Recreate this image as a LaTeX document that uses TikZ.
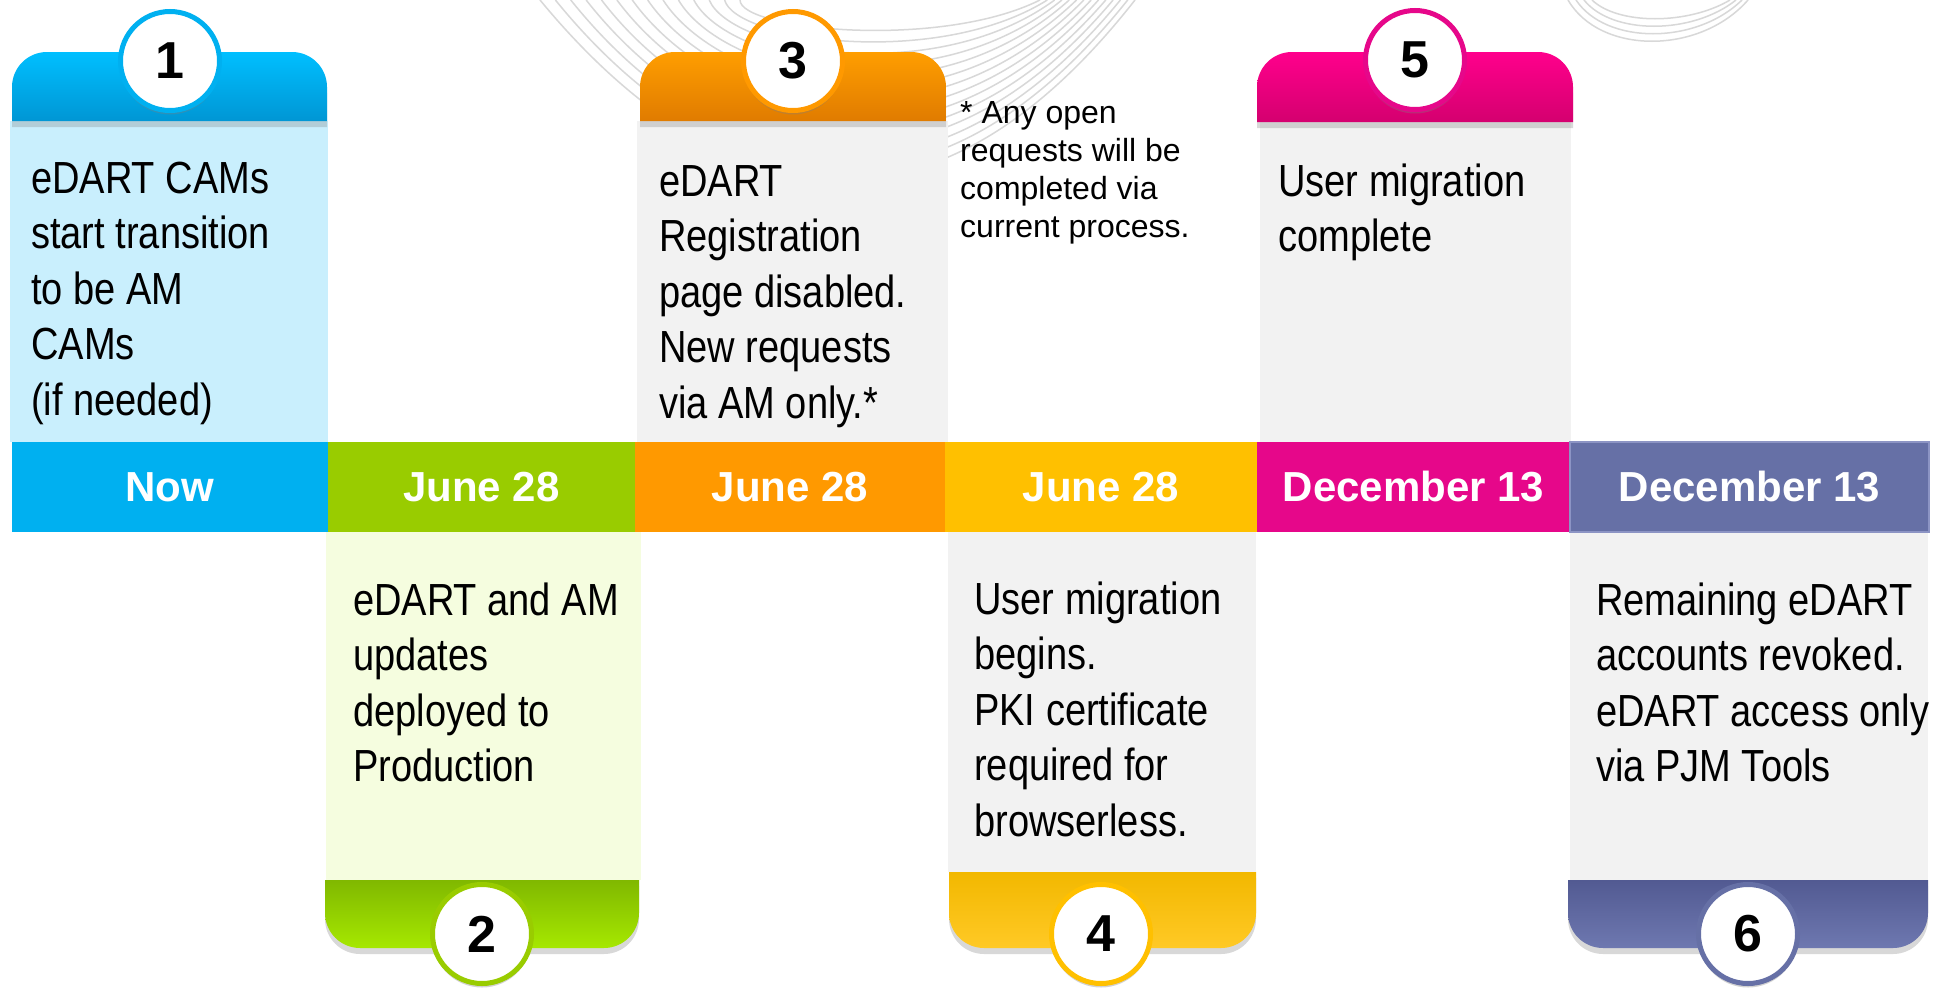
\documentclass[tikz,border=0pt]{standalone}
\usepackage{fontspec}
\setmainfont{Liberation Sans}
\newfontfamily\condfont[FakeStretch=0.845]{Liberation Sans}
\usetikzlibrary{shadows}
\definecolor{cNow}{HTML}{00B0F0}
\definecolor{cGreen}{HTML}{99CC00}
\definecolor{cOrange}{HTML}{FF9900}
\definecolor{cYellow}{HTML}{FFC000}
\definecolor{cMag}{HTML}{E6078A}
\definecolor{cSlate}{HTML}{6670A6}
\definecolor{bBlue}{HTML}{C9EFFD}
\definecolor{bGreen}{HTML}{F5FDDF}
\definecolor{bGray}{HTML}{F2F2F2}
\definecolor{swirl}{HTML}{D8D8D8}
\begin{document}
\begin{tikzpicture}[x=1bp,y=-1bp,
  datebar/.style={rectangle, inner sep=0, minimum height=90bp, text=white,
    font=\bfseries\fontsize{42bp}{42bp}\selectfont},
  bodytext/.style={anchor=base west, align=left, inner sep=0,
    font=\condfont\fontsize{45bp}{55.6bp}\selectfont},
  notetext/.style={anchor=base west, align=left, inner sep=0,
    font=\fontsize{32bp}{38bp}\selectfont},
  numcircle/.style={circle, fill=white, line width=5bp, minimum size=99bp, inner sep=0,
    font=\bfseries\fontsize{52bp}{52bp}\selectfont,
    drop shadow={shadow xshift=0bp, shadow yshift=-4bp, opacity=0.35}},
  tabshadow/.style={drop shadow={shadow xshift=0bp, shadow yshift=-6bp, opacity=0.3}},
  swirlline/.style={swirl, line width=1.5bp}
]
\useasboundingbox[fill=white] (0,0) rectangle (1936,987);

% background swirl
\foreach \i in {0,...,13}{
  \pgfmathsetmacro{\d}{\i/13}
  \draw[swirlline] ({540+200*\d},0) .. controls ({680+60*\d},{170-140*\d}) and ({900+40*\d},{300-250*\d}) .. ({1135-95*\d},0);
}
\foreach \i in {0,...,3}{
  \draw[swirlline] (1568+8*\i,0) .. controls (1600+6*\i,55-10*\i) and (1700-4*\i,55-10*\i) .. (1748-6*\i,0);
}

% bodies
\fill[bBlue] (10,121) rectangle (328,442);
\fill[bGray] (637,121) rectangle (948,442);
\fill[bGray] (1260,121) rectangle (1571,442);
\fill[bGreen] (326,532) rectangle (641,880);
\fill[bGray] (948,532) rectangle (1256,872);
\fill[bGray] (1570,532) rectangle (1928,880);

% top tabs
\path[tabshadow, top color={rgb,255:red,0;green,191;blue,255}, bottom color={rgb,255:red,0;green,150;blue,212}]
  (12,121) [rounded corners=35bp] -- (12,52) -- (327,52) [sharp corners] -- (327,121) -- cycle;
\path[tabshadow, top color={rgb,255:red,255;green,158;blue,0}, bottom color={rgb,255:red,224;green,123;blue,0}]
  (640,121) [rounded corners=35bp] -- (640,52) -- (946,52) [sharp corners] -- (946,121) -- cycle;
\path[tabshadow, top color={rgb,255:red,255;green,0;blue,140}, bottom color={rgb,255:red,212;green,0;blue,111}]
  (1257,122) [rounded corners=35bp] -- (1257,52) -- (1573,52) [sharp corners] -- (1573,122) -- cycle;

% bottom tabs
\path[tabshadow, top color={rgb,255:red,128;green,184;blue,0}, bottom color={rgb,255:red,166;green,232;blue,0}]
  (325,880) [rounded corners=35bp] -- (325,948) -- (639,948) [sharp corners] -- (639,880) -- cycle;
\path[tabshadow, top color={rgb,255:red,242;green,184;blue,0}, bottom color={rgb,255:red,255;green,201;blue,38}]
  (949,872) [rounded corners=35bp] -- (949,948) -- (1256,948) [sharp corners] -- (1256,872) -- cycle;
\path[tabshadow, top color={rgb,255:red,82;green,90;blue,146}, bottom color={rgb,255:red,110;green,120;blue,176}]
  (1568,880) [rounded corners=35bp] -- (1568,948) -- (1928,948) [sharp corners] -- (1928,880) -- cycle;

% date bar
\node[datebar, fill=cNow, minimum width=316bp] (d1) at (170,487) {Now};
\node[datebar, fill=cGreen, minimum width=307bp] (d2) at (481.5,487) {June 28};
\node[datebar, fill=cOrange, minimum width=310bp] (d3) at (790,487) {June 28};
\node[datebar, fill=cYellow, minimum width=312bp] (d4) at (1101,487) {June 28};
\node[datebar, fill=cMag, minimum width=313bp] (d5) at (1413.5,487) {December 13};
\node[datebar, fill=cSlate, draw={rgb,255:red,140;green,148;blue,196}, line width=1.5bp, minimum width=359bp] (d6) at (1749.5,487) {December 13};

% number circles
\node[numcircle, draw=cNow] (n1) at (170,61) {1};
\node[numcircle, draw=cOrange] (n3) at (793,61) {3};
\node[numcircle, draw=cMag] (n5) at (1415,60) {5};
\node[numcircle, draw=cGreen] (n2) at (482,934) {2};
\node[numcircle, draw=cYellow] (n4) at (1101,934) {4};
\node[numcircle, draw=cSlate] (n6) at (1748,934) {6};

% texts (anchored at the baseline of the last line)
\node[bodytext] (t1) at (31,415.4) {eDART CAMs\\start transition\\to be AM\\CAMs\\(if needed)};
\node[bodytext] (t3) at (659,418.4) {eDART\\Registration\\page disabled.\\New requests\\via AM only.*};
\node[bodytext] (t5) at (1278,251.6) {User migration\\complete};
\node[bodytext] (t2) at (353,781.8) {eDART and AM\\updates\\deployed to\\Production};
\node[bodytext] (t4) at (974,836.4) {User migration\\begins.\\PKI certificate\\required for\\browserless.};
\node[bodytext] (t6) at (1596,781.8) {Remaining eDART\\accounts revoked.\\eDART access only\\via PJM Tools};
\node[notetext] (note) at (960,237) {* Any open\\requests will be\\completed via\\current process.};
\end{tikzpicture}
\end{document}
